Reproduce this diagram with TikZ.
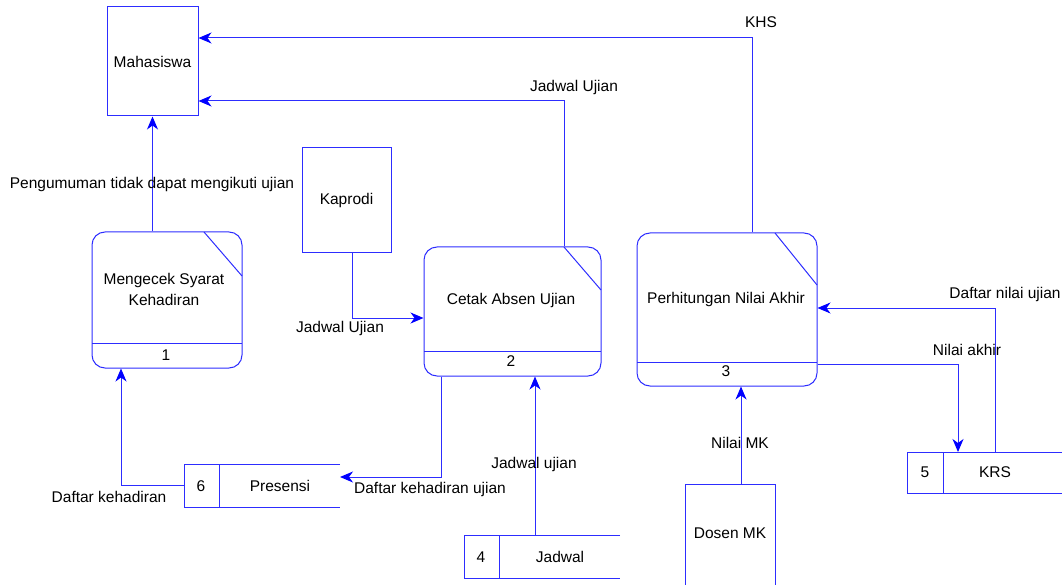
\documentclass[tikz,border=0pt]{standalone}
\usepackage{fontspec}
\setmainfont{Liberation Sans}
\usetikzlibrary{arrows.meta}
\definecolor{lb}{RGB}{45,45,255}
\definecolor{ab}{RGB}{0,0,255}
\begin{document}
\begin{tikzpicture}[x=1pt,y=-1pt,
  font=\fontsize{15.5}{21}\selectfont,
  ln/.style={draw=lb, line width=1pt},
  flow/.style={draw=lb, line width=1pt, -{Stealth[length=13pt,width=11pt,inset=4pt,color=ab]}},
  ent/.style={draw=lb, line width=1pt, minimum width=#1, inner sep=0pt},
  proc/.style={draw=lb, line width=1pt, rounded corners=13pt, inner sep=0pt},
  lbl/.style={inner sep=1pt, text=black}]
\useasboundingbox (0,0) rectangle (1062,585);
% entities
\node[ent=91pt, minimum height=109pt] (mhs) at (152.5,61.5) {Mahasiswa};
\node[ent=89pt, minimum height=105pt] (kap) at (346.5,200.5) {Kaprodi};
\draw[ln] (685,600) |- (775,484) -- (775,600);
\coordinate (dosTop) at (741,484);
\node[lbl] (dos) at (730,533) {Dosen MK};
% processes
\node[proc, minimum width=150pt, minimum height=136pt] (p1) at (167,300) {};
\draw[ln] (92,343) -- (242,343);
\draw[ln] (204,232) -- (242,276);
\node[lbl, align=center] (p1t) at (164,289) {Mengecek Syarat\\Kehadiran};
\node[lbl] (p1n) at (166,355) {1};
\node[proc, minimum width=177pt, minimum height=129pt] (p2) at (512.5,311.5) {};
\draw[ln] (424,351) -- (601,351);
\draw[ln] (564,247) -- (601,290);
\node[lbl] (p2t) at (511,300) {Cetak Absen Ujian};
\node[lbl] (p2n) at (511,361) {2};
\node[proc, minimum width=180pt, minimum height=153pt] (p3) at (727,309.5) {};
\draw[ln] (637,362) -- (817,362);
\draw[ln] (775,233) -- (817,285);
\node[lbl] (p3t) at (726,299) {Perhitungan Nilai Akhir};
\node[lbl] (p3n) at (726,371) {3};
% data stores
\draw[ln] (340,464) -- (184,464) -- (184,507) -- (340,507);
\draw[ln] (219,464) -- (219,507);
\node[lbl] (s6n) at (201,486) {6};
\node[lbl] (s6) at (280,486) {Presensi};
\coordinate (s6L) at (184,485);
\coordinate (s6R) at (340,477);
\draw[ln] (620,535) -- (464,535) -- (464,578) -- (620,578);
\draw[ln] (499,535) -- (499,578);
\node[lbl] (s4n) at (481,557) {4};
\node[lbl] (s4) at (560,557) {Jadwal};
\coordinate (s4T) at (535,535);
\draw[ln] (1062,452) -- (907,452) -- (907,493) -- (1062,493);
\draw[ln] (943,452) -- (943,493);
\node[lbl] (s5n) at (925,472) {5};
\node[lbl] (s5) at (995,472) {KRS};
\coordinate (s5a) at (958,452);
\coordinate (s5b) at (995,452);
% flows
\draw[flow] (p3.north -| 752,0) |- (mhs.east |- 0,38);
\node[lbl] (lkhs) at (761,22) {KHS};
\draw[flow] (p2.north -| 564,0) |- (mhs.east |- 0,101);
\node[lbl] (lju) at (574,87) {Jadwal Ujian};
\draw[flow] (p1.north -| mhs.south) -- (mhs.south);
\node[lbl] (lpg) at (152,184) {Pengumuman tidak dapat mengikuti ujian};
\draw[flow] (kap.south -| 352,0) |- (p2.west |- 0,318);
\node[lbl] (lju2) at (340,328) {Jadwal Ujian};
\draw[flow] (s6L) -| (p1.south -| 121,0);
\node[lbl] (ldk) at (109,497) {Daftar kehadiran};
\draw[flow] (p2.south -| 441,0) |- (s6R);
\node[lbl] (ldku) at (430,489) {Daftar kehadiran ujian};
\draw[flow] (s4T) -- (p2.south -| s4T);
\node[lbl] (ljd) at (534,464) {Jadwal ujian};
\draw[flow] (dosTop) -- (p3.south -| dosTop);
\node[lbl] (lnmk) at (740,443) {Nilai MK};
\draw[flow] (p3.east |- 0,364) -| (s5a);
\node[lbl] (lna) at (967,350) {Nilai akhir};
\draw[flow] (s5b) |- (p3.east |- 0,308);
\node[lbl] (ldn) at (1005,294) {Daftar nilai ujian};
\end{tikzpicture}
\end{document}
